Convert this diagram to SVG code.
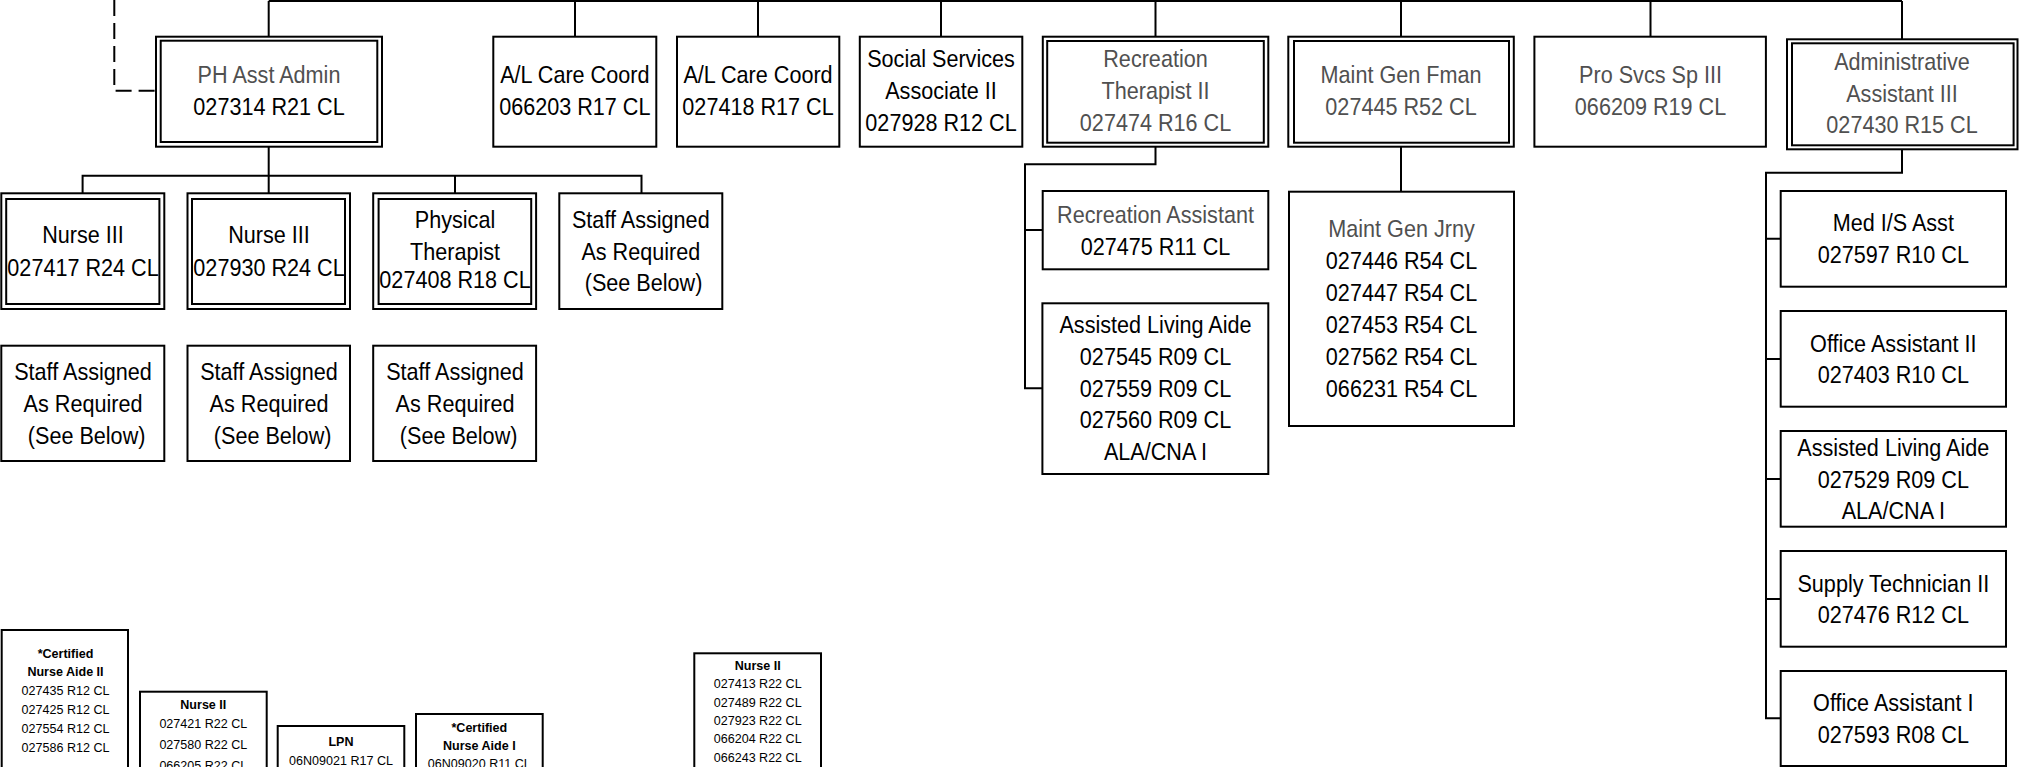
<svg xmlns="http://www.w3.org/2000/svg" width="2019" height="767" viewBox="0 0 2019 767">
<style>
.b{fill:#fff;stroke:#000;stroke-width:2}
.c{fill:none;stroke:#000;stroke-width:2}
.d{fill:none;stroke:#000;stroke-width:2;stroke-dasharray:16 7}
.t{font-family:"Liberation Sans",Arial,sans-serif;font-size:24px;text-anchor:middle;fill:#000}
.s{font-family:"Liberation Sans",Arial,sans-serif;font-size:13.5px;text-anchor:middle;fill:#000}
.g{fill:#505050}
.bd{font-weight:bold}
</style>
<rect width="2019" height="767" fill="#fff"/>
<g id="connectors">
<path class="c" d="M268.7,1 H1902"/>
<path class="c" d="M268.7,1 V36.7 M575,1 V36.7 M758,1 V36.7 M941,1 V36.7 M1155.5,1 V36.7 M1401,1 V36.7 M1650.5,1 V36.7 M1902,1 V39.3"/>
<path class="d" d="M114.3,0 V90.7 H156"/>
<path class="c" d="M268.7,146.7 V175.7 M82.6,193.3 V175.7 H641.5 V193.3 M268.7,175.7 V193.3 M455,175.7 V193.3"/>
<path class="c" d="M1155.5,146.7 V164.3 H1025 V388.3 H1042.4 M1025,230 H1042.7"/>
<path class="c" d="M1401,146.7 V191.7"/>
<path class="c" d="M1902,149.3 V172.7 H1766 V718.3 H1780.7 M1766,238.7 H1780.7 M1766,359 H1780.7 M1766,479 H1780.7 M1766,599 H1780.7"/>
</g>
<g id="n-ph-asst-admin">
<rect class="b" x="156" y="36.7" width="226" height="110"/>
<rect class="b" x="160.7" y="40.7" width="216.6" height="101.3"/>
<text class="t" transform="translate(269 0) scale(0.9 1)"><tspan x="0" y="83.3" class="g">PH Asst Admin</tspan><tspan x="0" y="115">027314 R21 CL</tspan></text>
</g>
<g id="n-al-care-coord-1">
<rect class="b" x="493.3" y="36.7" width="163" height="110"/>
<text class="t" transform="translate(574.8 0) scale(0.9 1)"><tspan x="0" y="83.3">A/L Care Coord</tspan><tspan x="0" y="115">066203 R17 CL</tspan></text>
</g>
<g id="n-al-care-coord-2">
<rect class="b" x="677" y="36.7" width="162.3" height="110"/>
<text class="t" transform="translate(758 0) scale(0.9 1)"><tspan x="0" y="83.3">A/L Care Coord</tspan><tspan x="0" y="115">027418 R17 CL</tspan></text>
</g>
<g id="n-social-services">
<rect class="b" x="859.8" y="36.7" width="162.5" height="110"/>
<text class="t" transform="translate(941 0) scale(0.9 1)"><tspan x="0" y="66.7">Social Services</tspan><tspan x="0" y="99">Associate II</tspan><tspan x="0" y="130.7">027928 R12 CL</tspan></text>
</g>
<g id="n-recreation-therapist">
<rect class="b" x="1042.8" y="36.7" width="225.5" height="110"/>
<rect class="b" x="1047.2" y="41" width="216.6" height="101.7"/>
<text class="t g" transform="translate(1155.5 0) scale(0.9 1)"><tspan x="0" y="67.3">Recreation</tspan><tspan x="0" y="99.3">Therapist II</tspan><tspan x="0" y="131">027474 R16 CL</tspan></text>
</g>
<g id="n-maint-gen-fman">
<rect class="b" x="1288.3" y="36.7" width="225.5" height="110"/>
<rect class="b" x="1294" y="41" width="215" height="101.7"/>
<text class="t g" transform="translate(1401 0) scale(0.9 1)"><tspan x="0" y="83.3">Maint Gen Fman</tspan><tspan x="0" y="115">027445 R52 CL</tspan></text>
</g>
<g id="n-pro-svcs">
<rect class="b" x="1534.4" y="36.7" width="231.5" height="110"/>
<text class="t g" transform="translate(1650.5 0) scale(0.9 1)"><tspan x="0" y="83.3">Pro Svcs Sp III</tspan><tspan x="0" y="115">066209 R19 CL</tspan></text>
</g>
<g id="n-admin-asst-3">
<rect class="b" x="1787" y="39.3" width="230.5" height="110"/>
<rect class="b" x="1792" y="43.3" width="221.6" height="102"/>
<text class="t g" transform="translate(1902 0) scale(0.9 1)"><tspan x="0" y="70">Administrative</tspan><tspan x="0" y="101.7">Assistant III</tspan><tspan x="0" y="133.3">027430 R15 CL</tspan></text>
</g>
<g id="n-nurse3-1">
<rect class="b" x="1.3" y="193.3" width="163" height="115.7"/>
<rect class="b" x="6.2" y="199" width="153.2" height="105"/>
<text class="t" transform="translate(83 0) scale(0.9 1)"><tspan x="0" y="243.3">Nurse III</tspan><tspan x="0" y="276">027417 R24 CL</tspan></text>
</g>
<g id="n-nurse3-2">
<rect class="b" x="187.5" y="193.3" width="162.5" height="115.7"/>
<rect class="b" x="192" y="199" width="153" height="105"/>
<text class="t" transform="translate(269 0) scale(0.9 1)"><tspan x="0" y="243.3">Nurse III</tspan><tspan x="0" y="276">027930 R24 CL</tspan></text>
</g>
<g id="n-physical-therapist">
<rect class="b" x="373.2" y="193.3" width="162.9" height="115.7"/>
<rect class="b" x="378.6" y="199" width="152.6" height="105"/>
<text class="t" transform="translate(455 0) scale(0.9 1)"><tspan x="0" y="228.3">Physical</tspan><tspan x="0" y="260">Therapist</tspan><tspan x="0" y="288.3">027408 R18 CL</tspan></text>
</g>
<g id="n-staff-assigned-top">
<rect class="b" x="559.3" y="193.3" width="163" height="115.7"/>
<text class="t" transform="translate(640.8 0) scale(0.9 1)"><tspan x="0" y="228">Staff Assigned</tspan><tspan x="0" y="260">As Required</tspan><tspan x="3" y="291">(See Below)</tspan></text>
</g>
<g id="n-staff-assigned-1">
<rect class="b" x="1.3" y="345.7" width="163" height="115.3"/>
<text class="t" transform="translate(83 0) scale(0.9 1)"><tspan x="0" y="380">Staff Assigned</tspan><tspan x="0" y="412.3">As Required</tspan><tspan x="4" y="444.3">(See Below)</tspan></text>
</g>
<g id="n-staff-assigned-2">
<rect class="b" x="187.5" y="345.7" width="162.5" height="115.3"/>
<text class="t" transform="translate(269 0) scale(0.9 1)"><tspan x="0" y="380">Staff Assigned</tspan><tspan x="0" y="412.3">As Required</tspan><tspan x="4" y="444.3">(See Below)</tspan></text>
</g>
<g id="n-staff-assigned-3">
<rect class="b" x="373.2" y="345.7" width="162.9" height="115.3"/>
<text class="t" transform="translate(455 0) scale(0.9 1)"><tspan x="0" y="380">Staff Assigned</tspan><tspan x="0" y="412.3">As Required</tspan><tspan x="4" y="444.3">(See Below)</tspan></text>
</g>
<g id="n-recreation-assistant">
<rect class="b" x="1042.7" y="191" width="225.6" height="78.3"/>
<text class="t" transform="translate(1155.5 0) scale(0.9 1)"><tspan x="0" y="222.7" class="g">Recreation Assistant</tspan><tspan x="0" y="255">027475 R11 CL</tspan></text>
</g>
<g id="n-ala-rec">
<rect class="b" x="1042.4" y="303.3" width="225.9" height="170.7"/>
<text class="t" transform="translate(1155.5 0) scale(0.9 1)"><tspan x="0" y="333.3">Assisted Living Aide</tspan><tspan x="0" y="365">027545 R09 CL</tspan><tspan x="0" y="396.7">027559 R09 CL</tspan><tspan x="0" y="428.3">027560 R09 CL</tspan><tspan x="0" y="460">ALA/CNA I</tspan></text>
</g>
<g id="n-maint-gen-jrny">
<rect class="b" x="1289" y="191.7" width="225" height="234.3"/>
<text class="t" transform="translate(1401.5 0) scale(0.9 1)"><tspan x="0" y="236.7" class="g">Maint Gen Jrny</tspan><tspan x="0" y="269">027446 R54 CL</tspan><tspan x="0" y="301">027447 R54 CL</tspan><tspan x="0" y="333">027453 R54 CL</tspan><tspan x="0" y="365">027562 R54 CL</tspan><tspan x="0" y="397">066231 R54 CL</tspan></text>
</g>
<g id="n-med-is-asst">
<rect class="b" x="1780.7" y="191" width="225.3" height="95.7"/>
<text class="t" transform="translate(1893.3 0) scale(0.9 1)"><tspan x="0" y="231">Med I/S Asst</tspan><tspan x="0" y="263.3">027597 R10 CL</tspan></text>
</g>
<g id="n-office-asst-2">
<rect class="b" x="1780.7" y="311" width="225.3" height="95.7"/>
<text class="t" transform="translate(1893.3 0) scale(0.9 1)"><tspan x="0" y="351.7">Office Assistant II</tspan><tspan x="0" y="383.3">027403 R10 CL</tspan></text>
</g>
<g id="n-ala-admin">
<rect class="b" x="1780.7" y="431" width="225.3" height="95.7"/>
<text class="t" transform="translate(1893.3 0) scale(0.9 1)"><tspan x="0" y="456">Assisted Living Aide</tspan><tspan x="0" y="487.7">027529 R09 CL</tspan><tspan x="0" y="519.3">ALA/CNA I</tspan></text>
</g>
<g id="n-supply-tech-2">
<rect class="b" x="1780.7" y="551" width="225.3" height="95.7"/>
<text class="t" transform="translate(1893.3 0) scale(0.9 1)"><tspan x="0" y="591.7">Supply Technician II</tspan><tspan x="0" y="623.3">027476 R12 CL</tspan></text>
</g>
<g id="n-office-asst-1">
<rect class="b" x="1780.7" y="671" width="225.3" height="95"/>
<text class="t" transform="translate(1893.3 0) scale(0.9 1)"><tspan x="0" y="710.7">Office Assistant I</tspan><tspan x="0" y="743.3">027593 R08 CL</tspan></text>
</g>
<g id="n-cna2">
<rect class="b" x="1.7" y="630" width="126.3" height="160"/>
<text class="s" transform="translate(65.5 0) scale(0.93 1)"><tspan x="0" y="657.7" class="bd">*Certified</tspan><tspan x="0" y="676" class="bd">Nurse Aide II</tspan><tspan x="0" y="695">027435 R12 CL</tspan><tspan x="0" y="714">027425 R12 CL</tspan><tspan x="0" y="732.7">027554 R12 CL</tspan><tspan x="0" y="751.7">027586 R12 CL</tspan></text>
</g>
<g id="n-nurse2-a">
<rect class="b" x="140" y="691.7" width="126.7" height="100"/>
<text class="s" transform="translate(203.3 0) scale(0.93 1)"><tspan x="0" y="709.3" class="bd">Nurse II</tspan><tspan x="0" y="728.3">027421 R22 CL</tspan><tspan x="0" y="749.3">027580 R22 CL</tspan><tspan x="0" y="770">066205 R22 CL</tspan></text>
</g>
<g id="n-lpn">
<rect class="b" x="277.7" y="726" width="126.6" height="70"/>
<text class="s" transform="translate(341 0) scale(0.93 1)"><tspan x="0" y="746" class="bd">LPN</tspan><tspan x="0" y="765">06N09021 R17 CL</tspan></text>
</g>
<g id="n-cna1">
<rect class="b" x="416" y="714" width="126.7" height="80"/>
<text class="s" transform="translate(479.3 0) scale(0.93 1)"><tspan x="0" y="731.7" class="bd">*Certified</tspan><tspan x="0" y="750" class="bd">Nurse Aide I</tspan><tspan x="0" y="768.5">06N09020 R11 CL</tspan></text>
</g>
<g id="n-nurse2-b">
<rect class="b" x="694.3" y="653.3" width="126.7" height="140"/>
<text class="s" transform="translate(757.7 0) scale(0.93 1)"><tspan x="0" y="670" class="bd">Nurse II</tspan><tspan x="0" y="688.3">027413 R22 CL</tspan><tspan x="0" y="706.7">027489 R22 CL</tspan><tspan x="0" y="725">027923 R22 CL</tspan><tspan x="0" y="743.3">066204 R22 CL</tspan><tspan x="0" y="761.7">066243 R22 CL</tspan></text>
</g>
</svg>
